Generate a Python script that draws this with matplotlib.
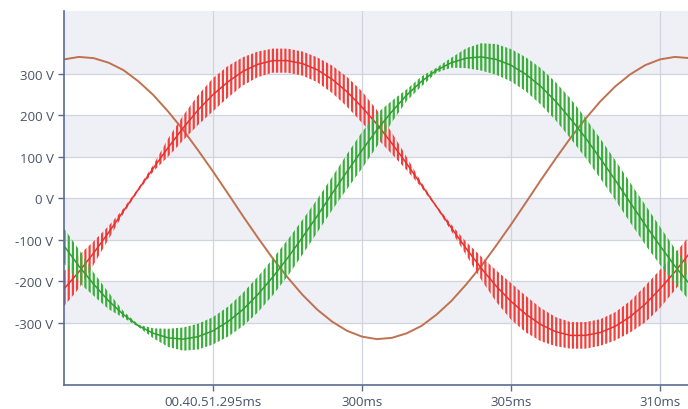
import matplotlib.pyplot as plt
from matplotlib.ticker import FixedLocator, FixedFormatter

# Tiempo de muestreo (ms)
tiempo_ms = [290.0, 290.5, 291.0, 291.5, 292.0, 292.5, 293.0, 293.5, 294.0, 294.5,
             295.0, 295.5, 296.0, 296.5, 297.0, 297.5, 298.0, 298.5, 299.0, 299.5,
             300.0, 300.5, 301.0, 301.5, 302.0, 302.5, 303.0, 303.5, 304.0, 304.5,
             305.0, 305.5, 306.0, 306.5, 307.0, 307.5, 308.0, 308.5, 309.0, 309.5,
             310.0, 310.5, 311.0]

# Fase marron (casi sin rizado)
fase_marron = [334, 340, 337, 326, 308, 281, 248, 208, 164, 115,
               64, 11, -43, -95, -145, -191, -233, -269, -298, -320,
               -334, -340, -337, -326, -308, -281, -248, -208, -164, -115,
               -64, -11, 43, 95, 145, 191, 233, 269, 298, 320,
               334, 340, 337]

# Fase roja: valor medio y media amplitud del rizado (V)
fase_roja = [-219, -178, -132, -83, -31, 21, 72, 122, 169, 212,
             249, 280, 305, 322, 331, 331, 324, 309, 286, 256,
             219, 178, 132, 83, 31, -21, -72, -122, -169, -212,
             -249, -280, -305, -322, -331, -331, -324, -309, -286, -256,
             -219, -178, -132]
rizado_rojo = [42, 40, 28, 16, 6, 4, 8, 22, 30, 36,
               40, 38, 34, 31, 29, 29, 29, 30, 33, 36,
               38, 34, 26, 16, 6, 3, 8, 16, 28, 38,
               44, 44, 40, 35, 32, 32, 32, 34, 38, 44,
               46, 44, 42]

# Fase verde: valor medio y media amplitud del rizado (V)
fase_verde = [-115, -164, -208, -248, -281, -308, -326, -337, -340, -334,
              -320, -298, -269, -233, -191, -145, -95, -43, 11, 64,
              115, 164, 208, 248, 281, 308, 326, 337, 340, 334,
              320, 298, 269, 233, 191, 145, 95, 43, -11, -64,
              -115, -164, -208]
rizado_verde = [42, 40, 28, 20, 8, 3, 12, 22, 28, 31,
                33, 36, 40, 43, 44, 44, 42, 40, 40, 42,
                44, 40, 26, 14, 12, 6, 12, 24, 33, 37,
                39, 41, 44, 46, 48, 48, 48, 48, 48, 48,
                46, 42, 40]

# Ejes
ticks_x = [295, 300, 305, 310]
etiquetas_x = ["00.40.51.295ms", "300ms", "305ms", "310ms"]
ticks_y = [-300, -200, -100, 0, 100, 200, 300]
etiquetas_y = [f"{v} V" for v in ticks_y]

COLOR_EJE = "#5a6b93"
COLOR_TEXTO = "#4a5266"

plt.rcParams["font.family"] = ["Open Sans", "DejaVu Sans"]
plt.rcParams["hatch.linewidth"] = 1.6

fig = plt.figure(figsize=(6.88, 4.10), dpi=100)
ax = fig.add_axes([0.093, 0.0591, 0.907, 0.911])
ax.set_xlim(290, 310.94)
ax.set_ylim(-450, 450)

# bandas grises alternas
for y0, y1 in [(300, 450), (100, 200), (-100, 0), (-300, -200)]:
    ax.axhspan(y0, y1, color="#eef0f5", lw=0, zorder=0)

ax.set_axisbelow(True)
ax.grid(color="#d0d4de", lw=0.9)


def dibujar_fase(centro, rizado, color, color_rayado):
    # banda del rizado con rayado vertical, y la linea media
    sup = [c + r for c, r in zip(centro, rizado)]
    inf = [c - r for c, r in zip(centro, rizado)]
    ax.fill_between(tiempo_ms, inf, sup, facecolor="none", edgecolor=color_rayado,
                    linewidth=0, hatch="||||", zorder=2)
    ax.plot(tiempo_ms, centro, color=color, lw=1.1, zorder=2)


ax.plot(tiempo_ms, fase_marron, color="#c0714f", lw=1.4, zorder=2)
dibujar_fase(fase_roja, rizado_rojo, "#e8322f", "#f2403d")
dibujar_fase(fase_verde, rizado_verde, "#2f9f2f", "#3aae3a")

ax.xaxis.set_major_locator(FixedLocator(ticks_x))
ax.xaxis.set_major_formatter(FixedFormatter(etiquetas_x))
ax.yaxis.set_major_locator(FixedLocator(ticks_y))
ax.yaxis.set_major_formatter(FixedFormatter(etiquetas_y))

for lado in ["top", "right"]:
    ax.spines[lado].set_visible(False)
for lado in ["left", "bottom"]:
    ax.spines[lado].set_color(COLOR_EJE)
    ax.spines[lado].set_linewidth(1.2)

ax.tick_params(axis="both", length=4.5, width=1, color=COLOR_EJE,
               labelsize=9.5, labelcolor=COLOR_TEXTO)
ax.tick_params(axis="y", pad=3)
ax.tick_params(axis="x", pad=3)

plt.savefig("out.png", dpi=100)
